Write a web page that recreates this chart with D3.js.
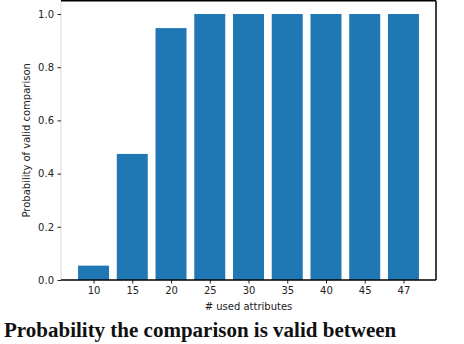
<!DOCTYPE html>
<html><head><meta charset="utf-8">
<script src="https://cdn.jsdelivr.net/npm/d3@7"></script>
<style>body{margin:0;background:#fff;overflow:hidden}svg{display:block}</style>
</head><body>
<svg id="c" width="464" height="344"></svg>
<script>
const categories = ["10","15","20","25","30","35","40","45","47"];
const values = [0.054, 0.474, 0.947, 1.0, 1.0, 1.0, 1.0, 1.0, 1.0];
const yTicks = [0.0, 0.2, 0.4, 0.6, 0.8, 1.0];
const xTitle = "# used attributes";
const yTitle = "Probability of valid comparison";
const caption = "Probability the comparison is valid between";

const svg = d3.select("#c");
const L = 61, R = 436, T = 0.7, B = 280;
const font = "DejaVu Sans";

const idx = d3.range(categories.length);
const x = d3.scaleLinear().domain([-0.84, categories.length - 1 + 0.84]).range([L, R]);
const y = d3.scaleLinear().domain([0, 1.05]).range([B, T]);

svg.append("g").selectAll("rect").data(idx).join("rect")
  .attr("x", i => x(i - 0.4)).attr("width", x(0.8) - x(0))
  .attr("y", i => y(values[i])).attr("height", i => y(0) - y(values[i]))
  .attr("fill", "#1f77b4");

// spines
svg.append("line").attr("x1", L).attr("x2", L).attr("y1", T).attr("y2", B).attr("stroke", "#e6e6e6").attr("stroke-width", 1.5);
svg.append("line").attr("x1", L).attr("x2", R).attr("y1", T).attr("y2", T).attr("stroke", "#000").attr("stroke-width", 1.5);
svg.append("line").attr("x1", R).attr("x2", R).attr("y1", T).attr("y2", B).attr("stroke", "#000").attr("stroke-width", 1.5);

const xAxis = d3.axisBottom(x).tickValues(idx).tickFormat(i => categories[i]).tickSize(3.5).tickPadding(3.5).tickSizeOuter(0);
const gx = svg.append("g").attr("transform", `translate(0,${B})`).call(xAxis);
gx.select(".domain").remove();
svg.append("line").attr("x1", L).attr("x2", R).attr("y1", B).attr("y2", B).attr("stroke", "#000").attr("stroke-width", 1.5);

const yAxis = d3.axisLeft(y).tickValues(yTicks).tickFormat(d3.format(".1f")).tickSize(3.5).tickPadding(3.5);
const gy = svg.append("g").attr("transform", `translate(${L},0)`).call(yAxis);
gy.select(".domain").remove();

svg.selectAll(".tick text").attr("font-family", font).attr("font-size", 10).attr("fill", "#222");
svg.selectAll(".tick line").attr("stroke", "#222");

svg.append("text").attr("x", (L + R) / 2).attr("y", 310).attr("text-anchor", "middle")
  .attr("font-family", font).attr("font-size", 10).attr("fill", "#222").text(xTitle);
svg.append("text").attr("transform", `translate(30,${(T + B) / 2}) rotate(-90)`).attr("text-anchor", "middle")
  .attr("font-family", font).attr("font-size", 10).attr("fill", "#222").text(yTitle);

const cap = svg.append("text").attr("x", 4).attr("y", 337).attr("font-family", "Liberation Serif")
  .attr("font-size", 21).attr("font-weight", "bold").attr("fill", "#111").text(caption);
const w = cap.node().getComputedTextLength();
if (w > 456) cap.attr("textLength", 456).attr("lengthAdjust", "spacingAndGlyphs");
</script>
</body></html>
